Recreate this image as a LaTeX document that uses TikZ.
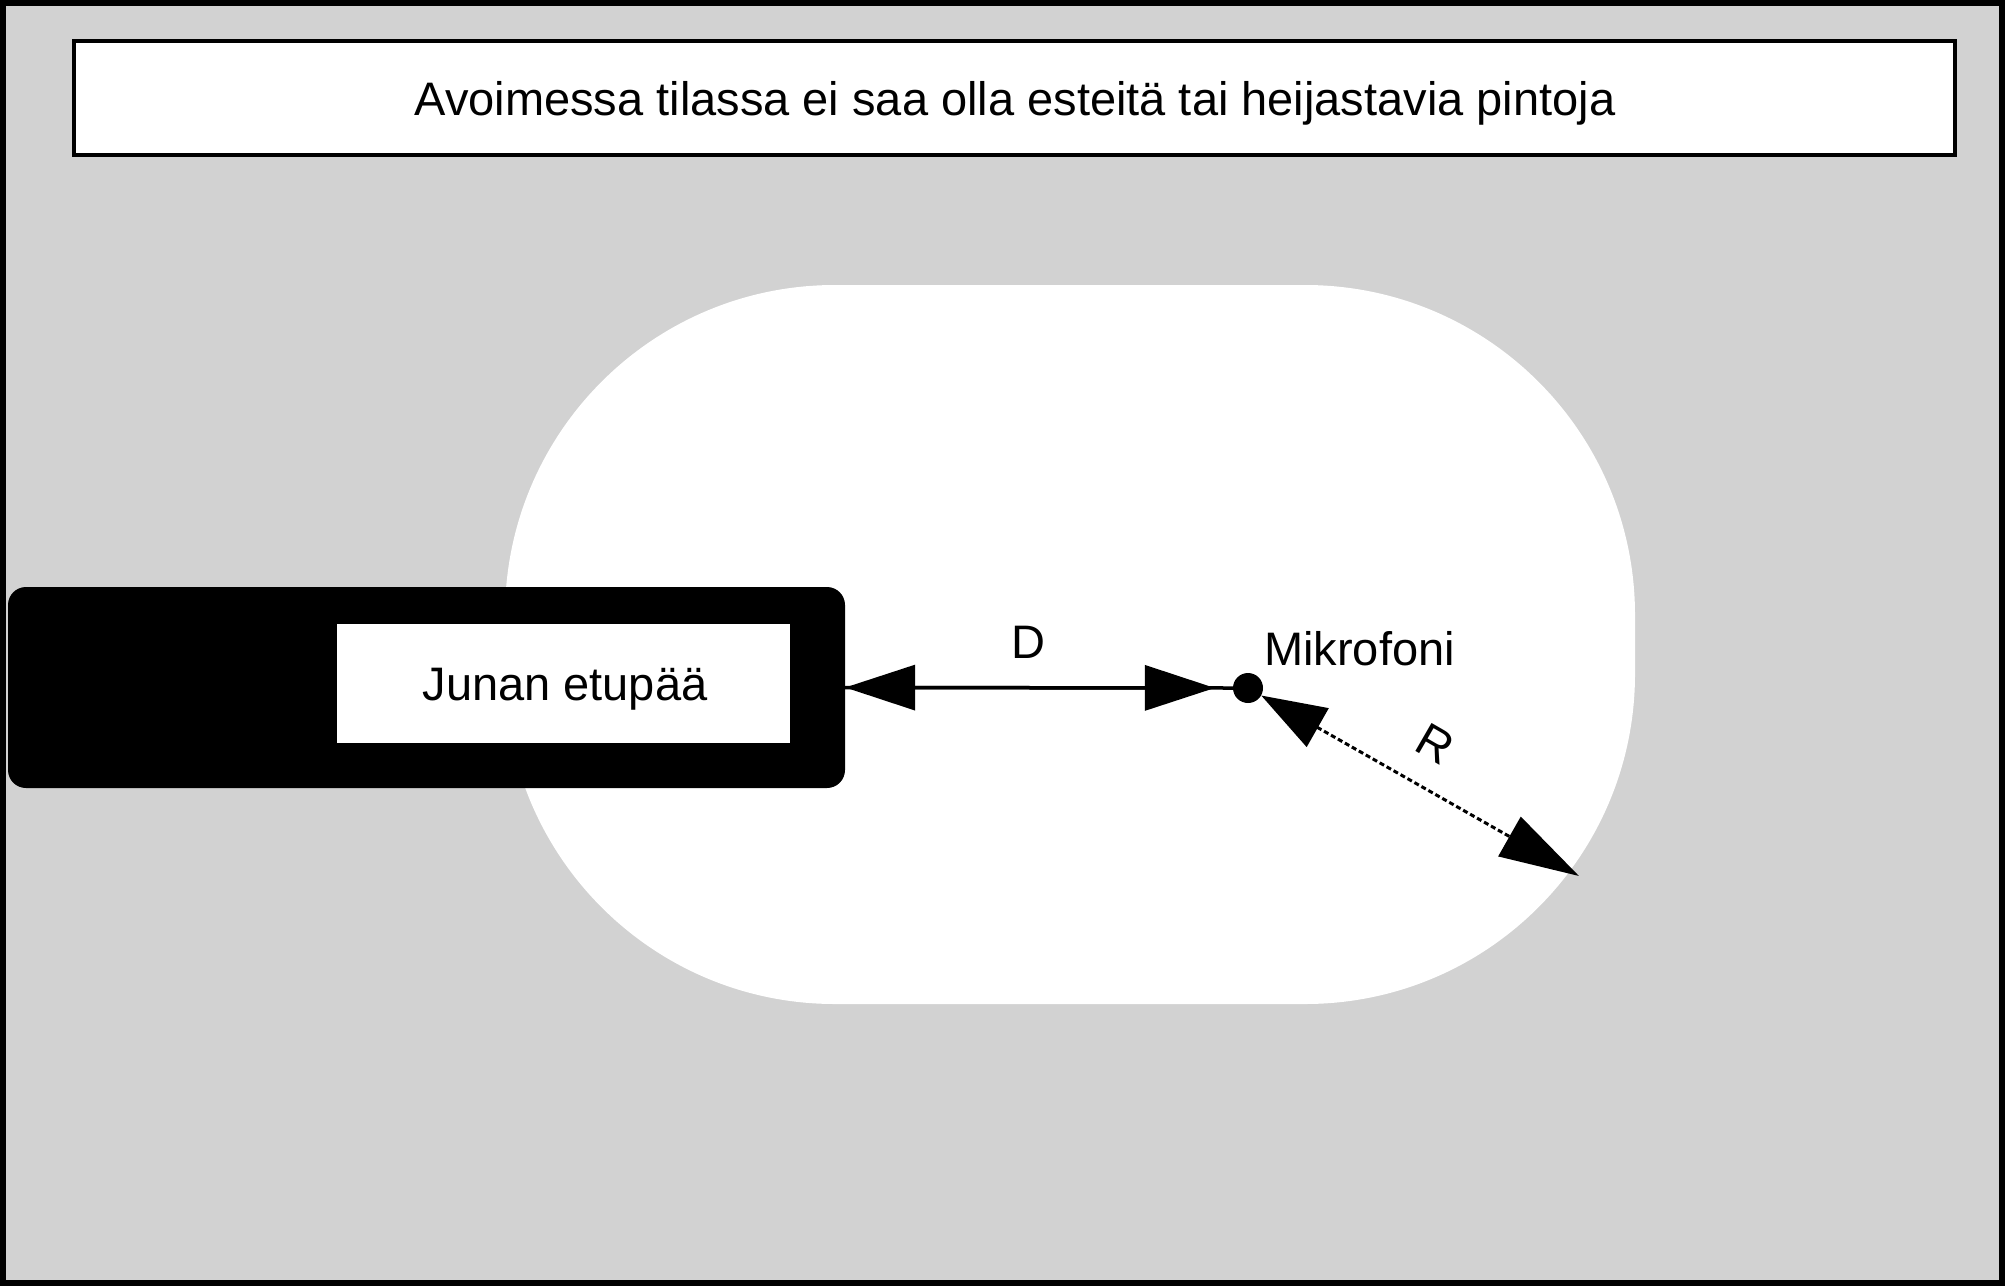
\documentclass[tikz,border=0pt]{standalone}
\usepackage{fontspec}
\setmainfont{Liberation Sans}
\usetikzlibrary{arrows.meta}
\definecolor{bggray}{RGB}{210,210,210}
\tikzset{
  lbl/.style={inner sep=0pt, font=\fontsize{47pt}{56pt}\selectfont},
  dimline/.style={line width=3.5pt},
  rline/.style={line width=3pt, dash pattern=on 5pt off 3pt},
}
\begin{document}
\begin{tikzpicture}[x=1pt,y=-1pt]
\useasboundingbox (0,0) rectangle (2005,1286);
% background and frame
\fill[bggray] (0,0) rectangle (2005,1286);
\draw[line width=6pt] (3,3) rectangle (2002,1283);
% free (white) area
\fill[white, rounded corners=330pt] (505,285) rectangle (1635,1004);
% title box
\node[draw, fill=white, line width=3.5pt, minimum width=1881pt, minimum height=114pt, inner sep=0pt] (titlebox) at (1014.5,98) {};
\node[lbl, anchor=base] (titletext) at (1015,115) {Avoimessa tilassa ei saa olla esteitä tai heijastavia pintoja};
% train
\node[fill=black, rounded corners=18pt, minimum width=837pt, minimum height=201pt, inner sep=0pt] (train) at (426.5,687.5) {};
\node[fill=white, minimum width=453pt, minimum height=119pt, inner sep=0pt] (trainlabel) at (563.5,683.5) {};
\node[lbl, anchor=base] (traintext) at (565,700) {Junan etupää};
% microphone
\node[circle, fill=black, minimum size=30pt, inner sep=0pt] (mic) at (1248,688) {};
\node[lbl, anchor=base west] (mictext) at (1264,665) {Mikrofoni};
\coordinate (rend) at (1579,876);
% D dimension
\draw[dimline] (train.east) -- (mic.west);
\draw[dimline, {Triangle[length=70pt,width=45pt]}-{Triangle[length=70pt,width=45pt]}, shorten >=18pt] (train.east) -- (mic.west);
\node[lbl, anchor=base] (dlabel) at (1028,658) {D};
% R dimension
\draw[rline, {Triangle[length=65pt,width=44pt]}-{Triangle[length=80pt,width=45pt]}] (mic) -- (rend);
\node[lbl, rotate=-30] (rlabel) at (1435,744) {R};
\end{tikzpicture}
\end{document}
